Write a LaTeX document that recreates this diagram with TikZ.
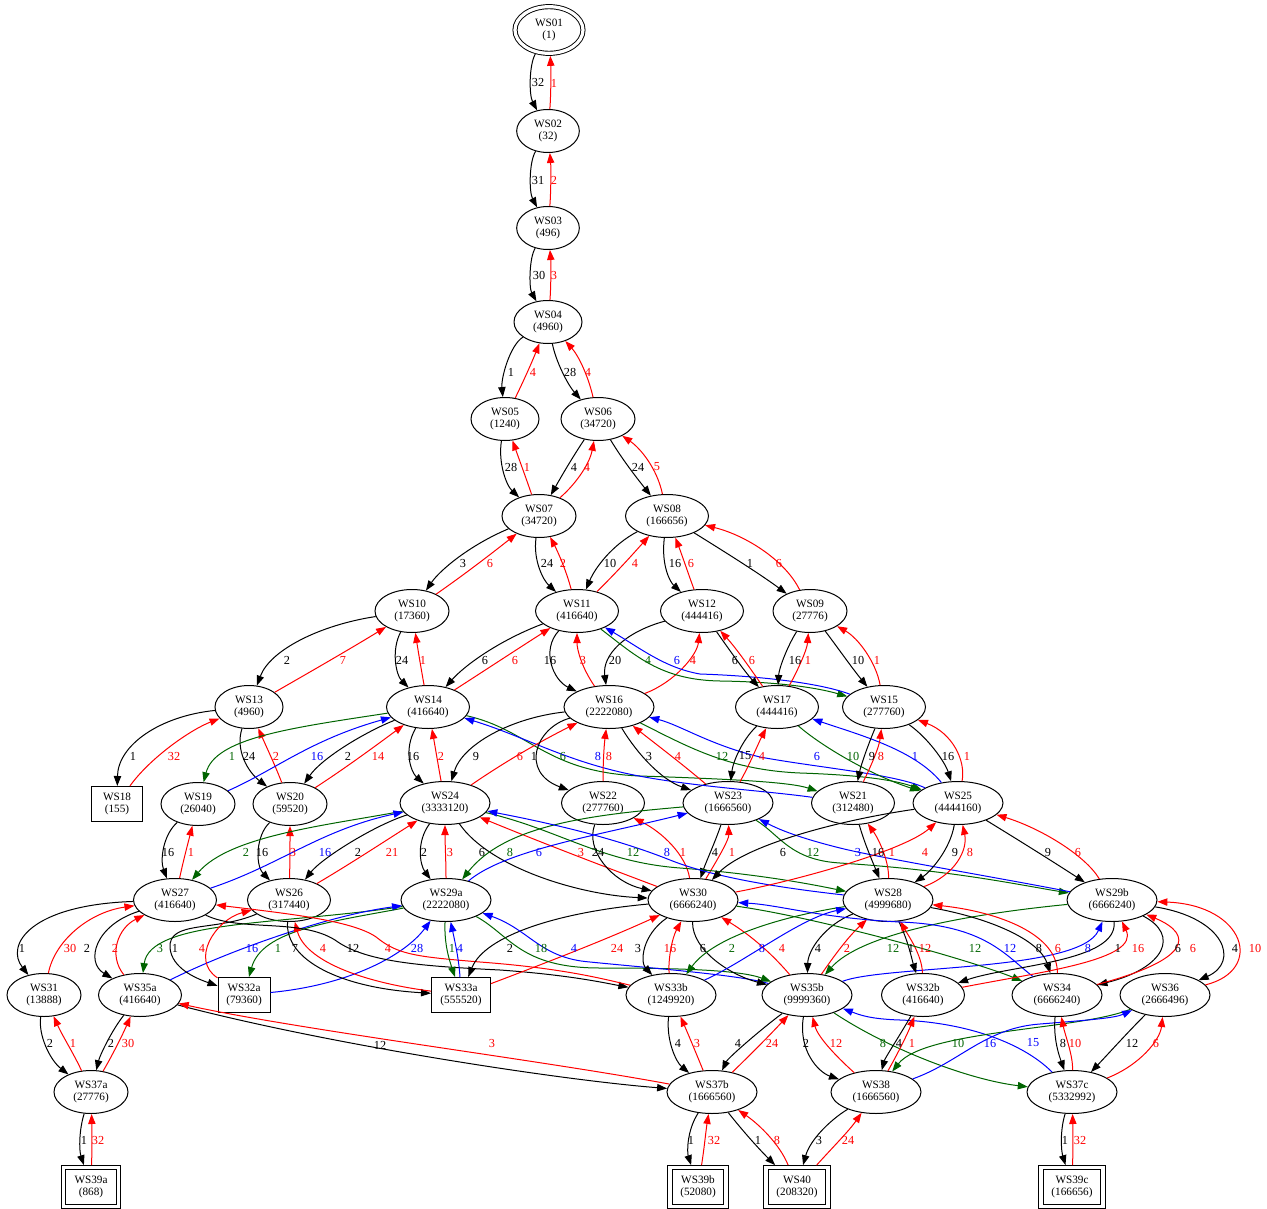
\documentclass[tikz,border=0pt]{standalone}
\usepackage{fontspec}
\setmainfont{Liberation Serif}
\usetikzlibrary{arrows.meta,shapes.geometric}
\definecolor{gr}{RGB}{0,100,0}
\definecolor{rd}{RGB}{255,0,0}
\definecolor{bl}{RGB}{0,0,255}
\newcounter{lbc}
\newcommand\lb[3]{\stepcounter{lbc}\node[lbl,text=#1] (lb\thelbc) at (#2) {#3};}
\newcommand\ed[5]{\draw[#1] (#2) .. controls (#3) and (#4) .. (#5);}
\begin{document}
\begin{tikzpicture}[x=0.75pt,y=-0.75pt,
  every node/.style={font=\fontsize{8.4}{8.8}\selectfont},
  el/.style={ellipse,draw,line width=0.75pt,inner sep=0pt,minimum height=32.25pt,align=center},
  e3/.style={el,minimum width=47pt},
  e4/.style={el,minimum width=51pt},
  e5/.style={el,minimum width=55.5pt},
  e6/.style={el,minimum width=62.25pt},
  e7/.style={el,minimum width=67.5pt},
  bx/.style={rectangle,draw,line width=0.75pt,inner sep=0pt,minimum height=26.25pt,align=center},
  dbx/.style={rectangle,draw,double,double distance=2.4pt,line width=0.7pt,inner sep=0pt,minimum height=29pt,align=center,outer sep=1.9pt},
  lbl/.style={inner sep=0pt,font=\fontsize{9.2}{9.4}\selectfont},
  ar/.style={line width=0.75pt,-{Triangle[length=7.5pt,width=5.5pt]}},
  k/.style={ar,black}, r/.style={ar,rd}, g/.style={ar,gr}, b/.style={ar,bl}]
\useasboundingbox (0,0) rectangle (1267,1209);
% nodes
\node[el,double,double distance=2.4pt,line width=0.7pt,minimum width=51pt,minimum height=35pt,outer sep=1.9pt] (WS01) at (549,30) {WS01\\(1)};
\node[e3] (WS02) at (548,131) {WS02\\(32)};
\node[e3] (WS03) at (548,228) {WS03\\(496)};
\node[e4] (WS04) at (548,322) {WS04\\(4960)};
\node[e4] (WS05) at (505,419) {WS05\\(1240)};
\node[e5] (WS06) at (598,419) {WS06\\(34720)};
\node[e5] (WS07) at (539,516) {WS07\\(34720)};
\node[e6] (WS08) at (667,516) {WS08\\(166656)};
\node[e5] (WS10) at (412,611) {WS10\\(17360)};
\node[e6] (WS11) at (577,611) {WS11\\(416640)};
\node[e6] (WS12) at (702,611) {WS12\\(444416)};
\node[e5] (WS09) at (810,611) {WS09\\(27776)};
\node[e4] (WS13) at (249,707) {WS13\\(4960)};
\node[e6] (WS14) at (428,707) {WS14\\(416640)};
\node[e7] (WS16) at (609,707) {WS16\\(2222080)};
\node[e6] (WS17) at (777,707) {WS17\\(444416)};
\node[e6] (WS15) at (884,707) {WS15\\(277760)};
\node[bx,minimum width=38.25pt] (WS18) at (117,804) {WS18\\(155)};
\node[e5] (WS19) at (198,804) {WS19\\(26040)};
\node[e5] (WS20) at (290,804) {WS20\\(59520)};
\node[e7] (WS24) at (445,803) {WS24\\(3333120)};
\node[e6] (WS22) at (603,803) {WS22\\(277760)};
\node[e7] (WS23) at (728,803) {WS23\\(1666560)};
\node[e6] (WS21) at (853,803) {WS21\\(312480)};
\node[e7] (WS25) at (958,803) {WS25\\(4444160)};
\node[e6] (WS27) at (175,900) {WS27\\(416640)};
\node[e6] (WS26) at (289,900) {WS26\\(317440)};
\node[e7] (WS29a) at (446,900) {WS29a\\(2222080)};
\node[e7] (WS30) at (693,900) {WS30\\(6666240)};
\node[e7] (WS28) at (888,900) {WS28\\(4999680)};
\node[e7] (WS29b) at (1112,900) {WS29b\\(6666240)};
\node[e5] (WS31) at (44,995) {WS31\\(13888)};
\node[e6] (WS35a) at (140,995) {WS35a\\(416640)};
\node[bx,minimum width=39pt] (WS32a) at (244,995) {WS32a\\(79360)};
\node[bx,minimum width=44.25pt] (WS33a) at (461,995) {WS33a\\(555520)};
\node[e7] (WS33b) at (671,995) {WS33b\\(1249920)};
\node[e7] (WS35b) at (807,995) {WS35b\\(9999360)};
\node[e6] (WS32b) at (923,995) {WS32b\\(416640)};
\node[e7] (WS34) at (1057,995) {WS34\\(6666240)};
\node[e7] (WS36) at (1165,995) {WS36\\(2666496)};
\node[e5] (WS37a) at (91,1092) {WS37a\\(27776)};
\node[e7] (WS37b) at (712,1092) {WS37b\\(1666560)};
\node[e7] (WS38) at (876,1092) {WS38\\(1666560)};
\node[e7] (WS37c) at (1072,1092) {WS37c\\(5332992)};
\node[dbx,minimum width=41pt] (WS39a) at (91,1187) {WS39a\\(868)};
\node[dbx,minimum width=42pt] (WS39b) at (698,1187) {WS39b\\(52080)};
\node[dbx,minimum width=46.5pt] (WS40) at (797,1187) {WS40\\(208320)};
\node[dbx,minimum width=46.5pt] (WS39c) at (1072,1187) {WS39c\\(166656)};
% edges top
\ed{k}{WS01}{529,65}{529,95}{WS02}
\ed{r}{WS02}{551,95}{551,70}{WS01}
\ed{k}{WS02}{529,162}{529,192}{WS03}
\ed{r}{WS03}{551,192}{551,167}{WS02}
\ed{k}{WS03}{529,258}{529,288}{WS04}
\ed{r}{WS04}{551,288}{551,262}{WS03}
\ed{k}{WS04}{510,345}{501,378}{WS05}
\ed{r}{WS05}{524,380}{532,362}{WS04}
\ed{k}{WS04}{556,362}{568,385}{WS06}
\ed{r}{WS06}{588,375}{578,355}{WS04}
\ed{k}{WS05}{498,462}{506,485}{WS07}
\ed{r}{WS07}{526,478}{519,459}{WS05}
\ed{k}{WS06}{572,458}{561,477}{WS07}
\ed{r}{WS07}{578,482}{590,462}{WS06}
\ed{k}{WS06}{622,459}{636,477}{WS08}
\ed{r}{WS08}{657,468}{640,448}{WS06}
\ed{k}{WS07}{470,545}{440,570}{WS10}
\ed{r}{WS10}{465,574}{491,554}{WS07}
\ed{k}{WS07}{533,560}{543,580}{WS11}
\ed{r}{WS11}{566,570}{558,552}{WS07}
\ed{k}{WS08}{612,545}{595,568}{WS11}
\ed{r}{WS11}{616,573}{633,554}{WS08}
\ed{k}{WS08}{661,565}{670,582}{WS12}
\ed{r}{WS12}{688,573}{682,555}{WS08}
\ed{k}{WS08}{725,552}{760,574}{WS09}
\ed{r}{WS09}{785,560}{745,535}{WS08}
\ed{k}{WS10}{320,625}{270,650}{WS13}
\ed{r}{WS13}{310,672}{350,649}{WS10}
\ed{k}{WS10}{391,650}{396,675}{WS14}
\ed{r}{WS14}{421,668}{418,650}{WS10}
\ed{k}{WS11}{500,640}{465,665}{WS14}
\ed{r}{WS14}{487,669}{519,648}{WS11}
\ed{k}{WS11}{541,650}{553,680}{WS16}
\ed{r}{WS16}{582,668}{577,650}{WS11}
\ed{k}{WS12}{625,632}{602,655}{WS16}
\ed{r}{WS16}{675,682}{697,655}{WS12}
\draw[g] (WS11) .. controls (635,655) and (660,680) .. (720,681) .. controls (790,682) and (825,690) .. (WS15);
\draw[b] (WS15) .. controls (820,683) and (760,676) .. (700,674) .. controls (665,668) and (640,648) .. (WS11);
\ed{k}{WS12}{728,648}{745,672}{WS17}
\ed{r}{WS17}{750,668}{736,648}{WS12}
\ed{k}{WS09}{788,645}{779,668}{WS17}
\ed{r}{WS17}{797,672}{807,650}{WS09}
\ed{k}{WS09}{838,648}{852,668}{WS15}
\ed{r}{WS15}{876,662}{858,638}{WS09}
\ed{k}{WS13}{160,716}{118,745}{WS18}
\ed{r}{WS18}{150,758}{190,730}{WS13}
\ed{k}{WS13}{235,750}{248,772}{WS20}
\ed{r}{WS20}{275,765}{266,746}{WS13}
\ed{g}{WS14}{290,728}{215,738}{WS19}
\ed{b}{WS19}{275,770}{310,740}{WS14}
\ed{k}{WS14}{365,732}{322,758}{WS20}
\ed{r}{WS20}{344,769}{374,747}{WS14}
\ed{k}{WS14}{403,750}{411,772}{WS24}
\ed{r}{WS24}{438,764}{435,746}{WS14}
\draw[g] (WS14) .. controls (530,730) and (545,772) .. (640,776) .. controls (730,779) and (790,782) .. (WS21);
\draw[b] (WS21) .. controls (760,790) and (680,786) .. (620,772) .. controls (560,758) and (520,735) .. (WS14);
\ed{k}{WS16}{510,718}{462,745}{WS24}
\ed{r}{WS24}{503,763}{539,742}{WS16}
\ed{k}{WS16}{535,728}{520,772}{WS22}
\ed{r}{WS22}{603,764}{604,746}{WS16}
\ed{k}{WS16}{638,755}{662,780}{WS23}
\ed{r}{WS23}{681,763}{657,745}{WS16}
\draw[g] (WS16) .. controls (690,748) and (730,770) .. (800,773) .. controls (860,775) and (895,780) .. (WS25);
\draw[b] (WS25) .. controls (895,774) and (820,768) .. (760,757) .. controls (710,745) and (680,725) .. (WS16);
\ed{k}{WS17}{742,740}{733,762}{WS23}
\ed{r}{WS23}{750,764}{757,746}{WS17}
\ed{g}{WS17}{820,745}{870,775}{WS25}
\ed{b}{WS25}{915,750}{860,735}{WS17}
\ed{k}{WS15}{868,745}{861,765}{WS21}
\ed{r}{WS21}{870,768}{879,748}{WS15}
\ed{k}{WS15}{928,738}{945,762}{WS25}
\ed{r}{WS25}{966,760}{952,733}{WS15}
% row 8-9
\ed{k}{WS19}{163,835}{160,860}{WS27}
\ed{r}{WS27}{183,862}{188,843}{WS19}
\ed{k}{WS20}{256,835}{255,865}{WS26}
\ed{r}{WS26}{290,860}{290,845}{WS20}
\ed{g}{WS24}{330,825}{230,835}{WS27}
\ed{b}{WS27}{280,865}{320,830}{WS24}
\ed{k}{WS24}{375,825}{322,858}{WS26}
\ed{r}{WS26}{350,864}{382,843}{WS24}
\ed{k}{WS24}{416,842}{420,865}{WS29a}
\ed{r}{WS29a}{446,862}{445,842}{WS24}
\ed{k}{WS24}{490,868}{580,895}{WS30}
\ed{r}{WS30}{600,865}{540,842}{WS24}
\ed{k}{WS22}{585,850}{612,882}{WS30}
\ed{r}{WS30}{686,855}{662,832}{WS22}
\ed{k}{WS23}{716,840}{706,862}{WS30}
\ed{r}{WS30}{716,862}{729,840}{WS23}
\ed{g}{WS23}{590,815}{505,825}{WS29a}
\ed{b}{WS29a}{505,850}{600,835}{WS23}
\draw[g] (WS24) .. controls (560,830) and (600,862) .. (680,868) .. controls (760,874) and (815,885) .. (WS28);
\draw[b] (WS28) .. controls (800,890) and (720,880) .. (670,860) .. controls (620,840) and (560,825) .. (WS24);
\draw[g] (WS23) .. controls (780,835) and (790,860) .. (840,863) .. controls (950,870) and (1020,885) .. (WS29b);
\draw[b] (WS29b) .. controls (1000,878) and (880,858) .. (840,848) .. controls (800,838) and (780,830) .. (WS23);
\ed{k}{WS25}{840,820}{745,845}{WS30}
\ed{r}{WS30}{800,880}{905,850}{WS25}
\ed{k}{WS21}{865,845}{874,865}{WS28}
\ed{r}{WS28}{889,860}{878,838}{WS21}
\ed{k}{WS25}{950,850}{930,872}{WS28}
\ed{r}{WS28}{955,875}{968,850}{WS25}
\ed{k}{WS25}{1020,841}{1052,861}{WS29b}
\ed{r}{WS29b}{1085,855}{1040,828}{WS25}
% row 9-10
\ed{k}{WS27}{30,905}{5,945}{WS31}
\ed{r}{WS31}{55,940}{90,912}{WS27}
\ed{k}{WS27}{95,925}{85,962}{WS35a}
\ed{r}{WS35a}{108,955}{118,928}{WS27}
\ed{g}{WS29a}{280,925}{150,920}{WS35a}
\ed{b}{WS35a}{230,950}{330,915}{WS29a}
\draw[k] (WS26) .. controls (215,932) and (168,920) .. (170,948) .. controls (172,968) and (195,978) .. (WS32a);
\ed{r}{WS32a}{190,960}{215,920}{WS26}
\ed{g}{WS29a}{330,922}{262,930}{WS32a}
\ed{b}{WS32a}{350,985}{405,955}{WS29a}
\ed{k}{WS26}{285,960}{340,988}{WS33a}
\ed{r}{WS33a}{360,982}{305,960}{WS26}
\draw[k] (WS27) .. controls (240,932) and (300,918) .. (335,940) .. controls (365,962) and (420,966) .. (500,970) .. controls (570,975) and (605,983) .. (WS33b);
\draw[r] (WS33b) .. controls (600,978) and (560,968) .. (480,962) .. controls (420,957) and (400,955) .. (380,940) .. controls (360,922) and (300,915) .. (WS27);
\ed{g}{WS29a}{444,945}{450,962}{WS33a}
\ed{b}{WS33a}{459,960}{455,942}{WS29a}
\ed{k}{WS30}{560,912}{485,935}{WS33a}
\ed{r}{WS33a}{548,962}{605,940}{WS30}
\draw[g] (WS29a) .. controls (510,935) and (520,968) .. (600,968) .. controls (680,968) and (740,970) .. (WS35b);
\draw[b] (WS35b) .. controls (740,975) and (650,968) .. (590,962) .. controls (540,958) and (530,930) .. (WS29a);
\ed{k}{WS30}{642,935}{640,962}{WS33b}
\ed{r}{WS33b}{668,960}{672,938}{WS30}
\ed{k}{WS30}{692,950}{730,975}{WS35b}
\ed{r}{WS35b}{773,955}{752,936}{WS30}
\ed{g}{WS28}{790,915}{715,935}{WS33b}
\ed{b}{WS33b}{745,962}{800,918}{WS28}
\ed{k}{WS28}{825,925}{808,950}{WS35b}
\ed{r}{WS35b}{834,956}{848,937}{WS28}
\ed{g}{WS29b}{960,915}{860,935}{WS35b}
\ed{b}{WS35b}{885,965}{1080,972}{WS29b}
\ed{k}{WS28}{908,940}{912,960}{WS32b}
\ed{r}{WS32b}{922,955}{908,935}{WS28}
\ed{g}{WS30}{820,918}{970,960}{WS34}
\draw[b] (WS34) .. controls (1005,955) and (985,925) .. (900,922) .. controls (820,918) and (780,905) .. (WS30);
\ed{k}{WS28}{990,918}{1040,940}{WS34}
\ed{r}{WS34}{1058,935}{1000,912}{WS28}
\ed{k}{WS29b}{1118,962}{1010,965}{WS32b}
\ed{r}{WS32b}{1040,972}{1140,960}{WS29b}
\ed{k}{WS29b}{1180,935}{1165,968}{WS34}
\ed{r}{WS34}{1190,960}{1195,935}{WS29b}
\ed{k}{WS29b}{1225,918}{1240,962}{WS36}
\ed{r}{WS36}{1265,970}{1245,905}{WS29b}
% row 10-11
\ed{k}{WS31}{38,1035}{50,1060}{WS37a}
\ed{r}{WS37a}{75,1056}{62,1035}{WS31}
\ed{k}{WS35a}{112,1030}{100,1055}{WS37a}
\ed{r}{WS37a}{113,1054}{122,1036}{WS35a}
\ed{k}{WS35a}{330,1045}{560,1080}{WS37b}
\ed{r}{WS37b}{540,1060}{300,1030}{WS35a}
\ed{k}{WS33b}{666,1040}{676,1062}{WS37b}
\ed{r}{WS37b}{696,1053}{689,1036}{WS33b}
\ed{k}{WS35b}{760,1030}{728,1058}{WS37b}
\ed{r}{WS37b}{750,1055}{769,1036}{WS35b}
\ed{k}{WS35b}{798,1050}{818,1072}{WS38}
\ed{r}{WS38}{840,1060}{818,1038}{WS35b}
\ed{g}{WS35b}{890,1050}{970,1080}{WS37c}
\draw[b] (WS37c) .. controls (1020,1040) and (960,1022) .. (900,1020) .. controls (870,1019) and (860,1015) .. (WS35b);
\ed{k}{WS32b}{900,1035}{885,1058}{WS38}
\ed{r}{WS38}{898,1053}{907,1035}{WS32b}
\ed{g}{WS36}{1080,1030}{925,1030}{WS38}
\draw[b] (WS38) .. controls (960,1062) and (985,1028) .. (1040,1024) .. controls (1090,1020) and (1115,1018) .. (WS36);
\ed{k}{WS34}{1053,1040}{1060,1058}{WS37c}
\ed{r}{WS37c}{1073,1055}{1065,1035}{WS34}
\ed{k}{WS36}{1127,1033}{1110,1052}{WS37c}
\ed{r}{WS37c}{1140,1065}{1160,1040}{WS36}
% row 11-12
\ed{k}{WS37a}{79,1130}{79,1150}{WS39a}
\ed{r}{WS39a}{92,1150}{92,1130}{WS37a}
\ed{k}{WS37b}{687,1130}{687,1152}{WS39b}
\ed{r}{WS39b}{704,1150}{706,1130}{WS37b}
\ed{k}{WS37b}{742,1130}{758,1148}{WS40}
\ed{r}{WS40}{780,1145}{760,1125}{WS37b}
\ed{k}{WS38}{830,1120}{810,1140}{WS40}
\ed{r}{WS40}{832,1148}{849,1131}{WS38}
\ed{k}{WS37c}{1060,1130}{1061,1150}{WS39c}
\ed{r}{WS39c}{1073,1150}{1073,1130}{WS37c}
% labels
\lb{black}{538,83}{32}\lb{rd}{554,83}{1}
\lb{black}{538,180}{31}\lb{rd}{554,180}{2}
\lb{black}{539,275}{30}\lb{rd}{554,275}{3}
\lb{black}{511,372}{1}\lb{rd}{533,372}{4}\lb{black}{570,372}{28}\lb{rd}{588,372}{4}
\lb{black}{511,467}{28}\lb{rd}{527,467}{1}\lb{black}{574,467}{4}\lb{rd}{587,467}{4}\lb{black}{638,467}{24}\lb{rd}{657,467}{5}
\lb{black}{463,563}{3}\lb{rd}{490,563}{6}\lb{black}{547,563}{24}\lb{rd}{563,563}{2}\lb{black}{610,563}{10}\lb{rd}{635,563}{4}\lb{black}{675,563}{16}\lb{rd}{691,563}{6}\lb{black}{750,563}{1}\lb{rd}{779,563}{6}
\lb{black}{287,660}{2}\lb{rd}{343,660}{7}\lb{black}{402,660}{24}\lb{rd}{423,660}{1}\lb{black}{485,660}{6}\lb{rd}{515,660}{6}\lb{black}{550,660}{16}\lb{rd}{583,660}{3}\lb{black}{615,660}{20}\lb{gr}{648,660}{4}\lb{bl}{677,660}{6}\lb{rd}{693,660}{4}\lb{black}{735,660}{6}\lb{rd}{752,660}{6}\lb{black}{795,660}{16}\lb{rd}{808,660}{1}\lb{black}{858,660}{10}\lb{rd}{877,660}{1}
\lb{black}{133,756}{1}\lb{rd}{174,756}{32}\lb{gr}{232,756}{1}\lb{black}{249,756}{24}\lb{rd}{276,756}{2}\lb{bl}{317,756}{16}\lb{black}{348,756}{2}\lb{rd}{378,756}{14}\lb{black}{413,756}{16}\lb{rd}{441,756}{2}\lb{black}{476,756}{9}\lb{rd}{520,756}{6}\lb{black}{534,756}{1}\lb{gr}{563,756}{6}\lb{bl}{598,756}{8}\lb{rd}{609,756}{8}\lb{black}{649,756}{3}\lb{rd}{678,756}{4}\lb{gr}{722,756}{12}\lb{black}{745,756}{15}\lb{rd}{762,756}{4}\lb{bl}{817,756}{6}\lb{gr}{853,756}{10}\lb{black}{872,756}{9}\lb{rd}{881,756}{8}\lb{bl}{915,756}{1}\lb{black}{948,756}{16}\lb{rd}{967,756}{1}
\lb{black}{168,852}{16}\lb{rd}{191,852}{1}\lb{gr}{246,852}{2}\lb{black}{262,852}{16}\lb{rd}{293,852}{3}\lb{bl}{325,852}{16}\lb{black}{358,852}{2}\lb{rd}{392,852}{21}\lb{black}{424,852}{2}\lb{rd}{450,852}{3}\lb{black}{482,852}{6}\lb{gr}{510,852}{8}\lb{bl}{539,852}{6}\lb{rd}{581,852}{3}\lb{black}{598,852}{24}\lb{gr}{633,852}{12}\lb{bl}{667,852}{8}\lb{rd}{683,852}{1}\lb{black}{715,852}{4}\lb{rd}{732,852}{1}\lb{black}{783,852}{6}\lb{gr}{813,852}{12}\lb{bl}{858,852}{3}\lb{black}{878,852}{16}\lb{rd}{892,852}{1}\lb{rd}{925,852}{4}\lb{black}{955,852}{9}\lb{rd}{970,852}{8}\lb{black}{1048,852}{9}\lb{rd}{1078,852}{6}
\lb{black}{22,948}{1}\lb{rd}{70,948}{30}\lb{black}{87,948}{2}\lb{rd}{115,948}{2}\lb{gr}{160,948}{3}\lb{black}{175,948}{1}\lb{rd}{202,948}{4}\lb{bl}{252,948}{16}\lb{gr}{278,948}{1}\lb{black}{295,948}{7}\lb{rd}{323,948}{4}\lb{black}{353,948}{12}\lb{rd}{388,948}{4}\lb{bl}{417,948}{28}\lb{gr}{452,948}{1}\lb{bl}{460,948}{4}\lb{black}{510,948}{2}\lb{gr}{541,948}{18}\lb{bl}{574,948}{4}\lb{rd}{617,948}{24}\lb{black}{638,948}{3}\lb{rd}{670,948}{16}\lb{black}{703,948}{6}\lb{gr}{732,948}{2}\lb{bl}{762,948}{8}\lb{rd}{782,948}{4}\lb{black}{818,948}{4}\lb{rd}{847,948}{2}\lb{gr}{893,948}{12}\lb{black}{911,948}{1}\lb{rd}{925,948}{12}\lb{gr}{975,948}{12}\lb{bl}{1010,948}{12}\lb{black}{1039,948}{8}\lb{rd}{1058,948}{6}\lb{bl}{1088,948}{8}\lb{black}{1118,948}{1}\lb{rd}{1138,948}{16}\lb{black}{1178,948}{6}\lb{rd}{1193,948}{6}\lb{black}{1235,948}{4}\lb{rd}{1255,948}{10}
\lb{black}{50,1043}{2}\lb{rd}{73,1043}{1}\lb{black}{111,1043}{2}\lb{rd}{128,1043}{30}\lb{black}{380,1045}{12}\lb{rd}{492,1043}{3}\lb{black}{678,1043}{4}\lb{rd}{697,1043}{3}\lb{black}{738,1043}{4}\lb{rd}{772,1043}{24}\lb{black}{806,1043}{2}\lb{rd}{836,1043}{12}\lb{gr}{883,1043}{8}\lb{black}{899,1043}{4}\lb{rd}{912,1043}{1}\lb{gr}{958,1043}{10}\lb{bl}{990,1043}{16}\lb{bl}{1033,1043}{15}\lb{black}{1063,1043}{8}\lb{rd}{1075,1043}{10}\lb{black}{1132,1043}{12}\lb{rd}{1156,1043}{6}
\lb{black}{84,1140}{1}\lb{rd}{98,1140}{32}\lb{black}{691,1140}{1}\lb{rd}{714,1140}{32}\lb{black}{758,1140}{1}\lb{rd}{777,1140}{8}\lb{black}{819,1140}{3}\lb{rd}{848,1140}{24}\lb{black}{1065,1140}{1}\lb{rd}{1080,1140}{32}
\end{tikzpicture}
\end{document}
